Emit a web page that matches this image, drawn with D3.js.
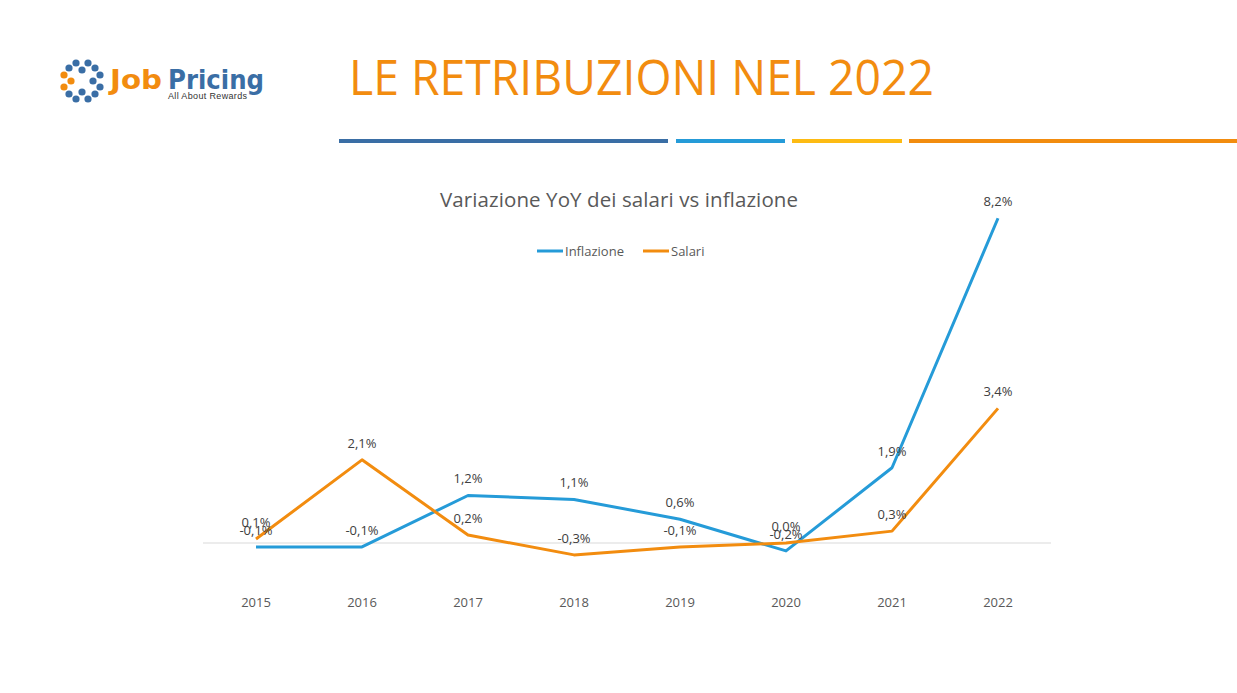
<!DOCTYPE html>
<html>
<head>
<meta charset="utf-8">
<script src="https://cdn.jsdelivr.net/npm/d3@7"></script>
<style>
  body { margin: 0; background: #fff; }
  svg { display: block; }
</style>
</head>
<body>
<div id="vis"></div>
<script>
var years = ["2015", "2016", "2017", "2018", "2019", "2020", "2021", "2022"];
var inflazione = [-0.1, -0.1, 1.2, 1.1, 0.6, -0.2, 1.9, 8.2];
var salari = [0.1, 2.1, 0.2, -0.3, -0.1, 0.0, 0.3, 3.4];
var seriesNames = ["Inflazione", "Salari"];
var seriesColors = ["#259BD8", "#F28C0F"];

var width = 1237, height = 693;
var font = "'Open Sans', 'Noto Sans', sans-serif";

var svg = d3.select("#vis").append("svg")
    .attr("width", width)
    .attr("height", height);

// header
svg.append("text")
    .attr("x", 349)
    .attr("y", 95)
    .attr("fill", "#F28C0F")
    .style("font-family", font)
    .style("font-size", "49px")
    .attr("textLength", 585)
    .attr("lengthAdjust", "spacingAndGlyphs")
    .text("LE RETRIBUZIONI NEL 2022");

var stripes = [
  {x0: 339, x1: 668, c: "#3A6EA5"},
  {x0: 676, x1: 785, c: "#259BD8"},
  {x0: 792, x1: 902, c: "#FDBB13"},
  {x0: 909, x1: 1237, c: "#F28C0F"}
];
svg.selectAll(".stripe").data(stripes).enter().append("rect")
    .attr("x", function(d) { return d.x0; })
    .attr("y", 139)
    .attr("width", function(d) { return d.x1 - d.x0; })
    .attr("height", 4)
    .attr("fill", function(d) { return d.c; });

// logo
var logo = svg.append("g").attr("transform", "translate(82,81)");
var dots = [
  [-6, -18, "#3A6EA5"], [6, -18, "#3A6EA5"], [0, -11, "#3A6EA5"],
  [-6, 18, "#3A6EA5"], [6, 18, "#3A6EA5"], [0, 11, "#3A6EA5"],
  [18, -6, "#3A6EA5"], [18, 6, "#3A6EA5"], [11, 0, "#3A6EA5"],
  [-18, -6, "#F28C0F"], [-18, 6, "#F28C0F"], [-11, 0, "#F28C0F"],
  [-13, -13, "#3A6EA5"], [13, -13, "#3A6EA5"], [-13, 13, "#3A6EA5"], [13, 13, "#3A6EA5"]
];
logo.selectAll("circle").data(dots).enter().append("circle")
    .attr("cx", function(d) { return d[0]; })
    .attr("cy", function(d) { return d[1]; })
    .attr("r", 3.6)
    .attr("fill", function(d) { return d[2]; });

svg.append("text")
    .attr("x", 110)
    .attr("y", 89)
    .attr("fill", "#F28C0F")
    .style("font-family", "'DejaVu Sans', Verdana, sans-serif")
    .style("font-weight", "bold")
    .style("font-size", "27px")
    .attr("textLength", 52)
    .attr("lengthAdjust", "spacingAndGlyphs")
    .text("Job");
svg.append("text")
    .attr("x", 168)
    .attr("y", 89)
    .attr("fill", "#3A6EA5")
    .style("font-family", "'DejaVu Sans', Verdana, sans-serif")
    .style("font-weight", "bold")
    .style("font-size", "27px")
    .attr("textLength", 96)
    .attr("lengthAdjust", "spacingAndGlyphs")
    .text("Pricing");
svg.append("text")
    .attr("x", 168)
    .attr("y", 99)
    .attr("fill", "#333")
    .style("font-family", "'Liberation Sans', Arial, sans-serif")
    .style("font-size", "9px")
    .attr("textLength", 79)
    .text("All About Rewards");

// chart
var x = d3.scaleBand()
    .domain(years)
    .range([203, 1051]);

var y = d3.scaleLinear()
    .domain([-2, 9])
    .range([543 + 2 * 39.6, 543 - 9 * 39.6]);

svg.append("text")
    .attr("x", 619)
    .attr("y", 207)
    .attr("text-anchor", "middle")
    .attr("fill", "#595959")
    .style("font-family", font)
    .style("font-size", "20.5px")
    .attr("textLength", 358)
    .text("Variazione YoY dei salari vs inflazione");

// zero line
svg.append("line")
    .attr("x1", x.range()[0])
    .attr("x2", x.range()[1])
    .attr("y1", y(0))
    .attr("y2", y(0))
    .attr("stroke", "#D9D9D9")
    .attr("stroke-width", 1);

// x axis
var xAxis = svg.append("g")
    .attr("transform", "translate(0," + 593 + ")")
    .call(d3.axisBottom(x).tickSize(0).tickPadding(0));
xAxis.select(".domain").remove();
xAxis.selectAll("text")
    .attr("dy", "1.1em")
    .attr("fill", "#595959")
    .style("font-family", font)
    .style("font-size", "13px");

var series = [inflazione, salari];

var line = d3.line()
    .x(function(d, i) { return x(years[i]) + x.bandwidth() / 2; })
    .y(function(d) { return y(d); });

series.forEach(function(values, s) {
  svg.append("path")
      .datum(values)
      .attr("fill", "none")
      .attr("stroke", seriesColors[s])
      .attr("stroke-width", 3)
      .attr("stroke-linejoin", "round")
      .attr("d", line);
});

series.forEach(function(values, s) {
  svg.selectAll(".lbl" + s).data(values).enter().append("text")
      .attr("x", function(d, i) { return x(years[i]) + x.bandwidth() / 2; })
      .attr("y", function(d) { return y(d) - 12; })
      .attr("text-anchor", "middle")
      .attr("fill", "#404040")
      .style("font-family", font)
      .style("font-size", "13px")
      .text(function(d) { return d3.format(".1f")(d).replace(".", ",").replace("−", "-") + "%"; });
});

// legend
var legendItems = [{x: 537}, {x: 643}];
legendItems.forEach(function(it, i) {
  svg.append("line")
      .attr("x1", it.x)
      .attr("x2", it.x + 26)
      .attr("y1", 251)
      .attr("y2", 251)
      .attr("stroke", seriesColors[i])
      .attr("stroke-width", 3);
  svg.append("text")
      .attr("x", it.x + 28)
      .attr("y", 256)
      .attr("fill", "#595959")
      .style("font-family", font)
      .style("font-size", "13px")
      .text(seriesNames[i]);
});
</script>
</body>
</html>
